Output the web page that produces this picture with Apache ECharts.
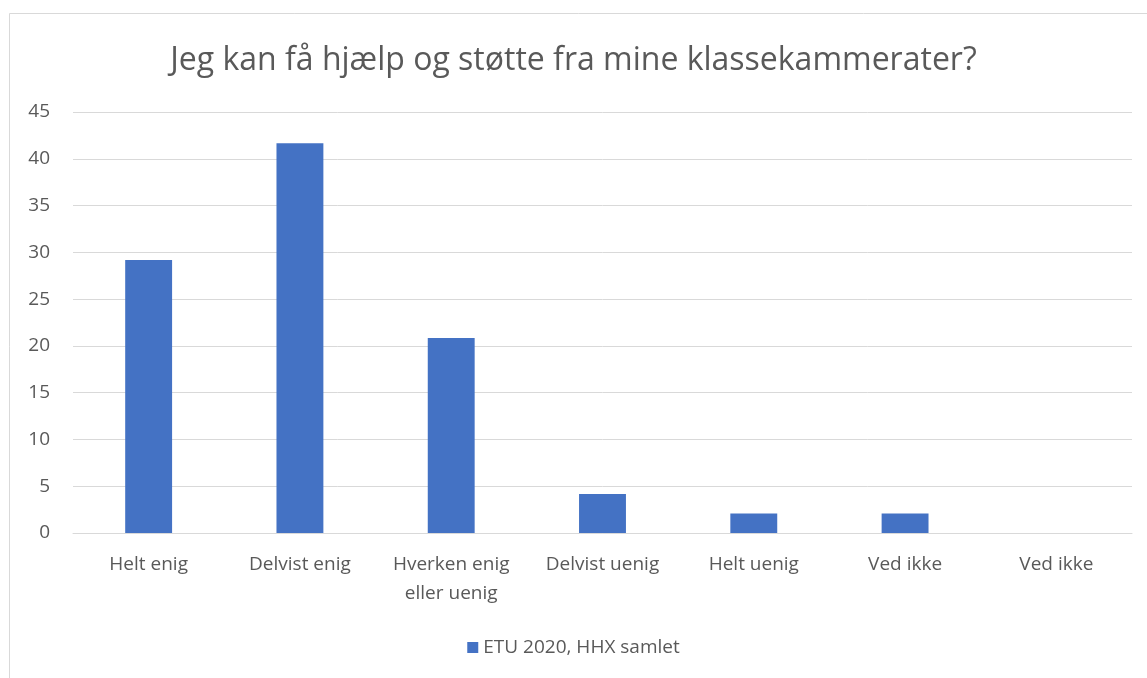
<!DOCTYPE html>
<html>
<head>
<meta charset="utf-8">
<script src="https://cdn.jsdelivr.net/npm/echarts@6/dist/echarts.min.js"></script>
<style>
  html, body { margin: 0; padding: 0; background: #fff; }
  #chart { width: 1147px; height: 678px; }
</style>
</head>
<body>
<div id="chart"></div>
<script>
// chart data
const categories = ['Helt enig', 'Delvist enig', 'Hverken enig\neller uenig', 'Delvist uenig', 'Helt uenig', 'Ved ikke', 'Ved ikke']
const values = [29.17, 41.67, 20.83, 4.17, 2.08, 2.08, 0]
const seriesName = 'ETU 2020, HHX samlet'
const titleText = 'Jeg kan få hjælp og støtte fra mine klassekammerater?'

const textColor = '#595959'
const fontFamily = '"Open Sans", "Liberation Sans", sans-serif'

const chart = echarts.init(document.getElementById('chart'))
chart.setOption({
  animation: false,
  backgroundColor: '#fff',
  textStyle: { fontFamily: fontFamily },
  graphic: [
    {
      type: 'rect',
      shape: { x: 9.5, y: 13.5, width: 1160, height: 700 },
      style: { fill: 'none', stroke: '#d9d9d9', lineWidth: 1 },
      silent: true
    }
  ],
  title: {
    text: titleText,
    left: 'center',
    top: 40,
    textStyle: { color: textColor, fontSize: 32, fontWeight: 'normal', fontFamily: fontFamily }
  },
  legend: {
    data: [seriesName],
    bottom: 16,
    left: 'center',
    icon: 'rect',
    itemWidth: 11,
    itemHeight: 11,
    itemGap: 6,
    itemStyle: { borderWidth: 0 },
    textStyle: { color: textColor, fontSize: 19, fontFamily: fontFamily }
  },
  grid: { left: 73, right: 15, top: 112, bottom: 145, containLabel: false },
  xAxis: {
    type: 'category',
    data: categories,
    axisLine: { show: true, lineStyle: { color: '#d9d9d9', width: 1 } },
    axisTick: { show: false },
    axisLabel: { color: textColor, fontSize: 19, margin: 17, lineHeight: 29, interval: 0 }
  },
  yAxis: {
    type: 'value',
    min: 0,
    max: 45,
    interval: 5,
    axisLine: { show: false },
    axisTick: { show: false },
    axisLabel: { color: textColor, fontSize: 19, margin: 23 },
    splitLine: { lineStyle: { color: '#d9d9d9', width: 1 } }
  },
  series: [
    {
      name: seriesName,
      type: 'bar',
      data: values,
      barWidth: '31%',
      itemStyle: { color: '#4472c4' }
    }
  ]
})
</script>
</body>
</html>
